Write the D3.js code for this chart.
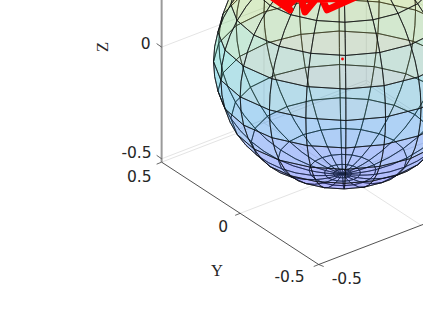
<!DOCTYPE html>
<html>
<head>
<meta charset="utf-8">
<script src="https://cdn.jsdelivr.net/npm/d3@7"></script>
<style>
  html, body { margin: 0; padding: 0; background: #fff; overflow: hidden; }
  text { font-family: "DejaVu Sans", sans-serif; fill: #262626; }
</style>
</head>
<body>
<div id="chart"></div>
<script>
var xTicks = [-0.5];
var yTicks = [0.5, 0, -0.5];
var zTicks = [0, -0.5];
var xLim = [-0.5, 0.5], yLim = [-0.5, 0.5], zLim = [-0.515, 0.5];

// mesh lines of the sphere, degrees
var latitudes = [-90, -86, -82, -75, -60, -45, -30, -15, 0, 15, 30, 45, 60, 75, 90];
var longitudes = [-180, -162, -144, -126, -108, -90, -72, -54, -36, -18, 0, 18, 36, 54, 72, 90, 108, 126, 144, 162, 180];
var radius = 0.5;

var colorZ = [-0.5, -0.25, 0, 0.25, 0.5];
var colorStops = ['#4030ff', '#3c7cf0', '#20d0d0', '#d8d050', '#ffc020'];

// red trace on the sphere surface (lon, lat)
var traceLon = [-193.5, -165.1, -183.2, -168, -164.4, -154, -147.5, -138.7, -114.1, -134.4, -125.4, -146.1, -162, -181.1];
var traceLat = [48.9, 48.1, 52.8, 50, 56.7, 49.3, 59.2, 52, 58.8, 61.2, 58, 56.8, 54.5, 49.4];
var centerDot = [[0, 0, 0]];

var width = 423, height = 317;
var az = -37.5 * Math.PI / 180, el = 30 * Math.PI / 180;
var sphereEl = 28 * Math.PI / 180;

var svg = d3.select('#chart').append('svg')
  .attr('width', width)
  .attr('height', height)
  .attr('viewBox', '0 0 ' + width + ' ' + height)
  .style('display', 'block');

var sx = d3.scaleLinear().domain([0, 1]).range([342.5, 342.5 + 258]);
var sy = d3.scaleLinear().domain([0, 1]).range([59, 59 - 258]);
var sySphere = d3.scaleLinear().domain([0, 1]).range([60, 60 - 258]);

function project(p) {
  var h = p[0] * Math.cos(az) + p[1] * Math.sin(az);
  var v = -p[0] * Math.sin(el) * Math.sin(az) + p[1] * Math.sin(el) * Math.cos(az) + p[2] * Math.cos(el);
  return [sx(h), sy(v)];
}
function projectMesh(p) {
  var h = p[0] * Math.cos(az) + p[1] * Math.sin(az);
  var v = -p[0] * Math.sin(sphereEl) * Math.sin(az) + p[1] * Math.sin(sphereEl) * Math.cos(az) + p[2] * Math.cos(sphereEl);
  return [sx(h), sySphere(v)];
}
function depth(p) {
  return p[0] * Math.cos(sphereEl) * Math.sin(az) - p[1] * Math.cos(sphereEl) * Math.cos(az) + p[2] * Math.sin(sphereEl);
}
function onSphere(lon, lat) {
  var a = lon * Math.PI / 180, b = lat * Math.PI / 180;
  return [radius * Math.cos(b) * Math.cos(a), radius * Math.cos(b) * Math.sin(a), radius * Math.sin(b)];
}

var line = d3.line();
function seg(a, b) { return line([project(a), project(b)]); }

// box grid
var gridLines = [];
zTicks.forEach(function(z) {
  gridLines.push([[xLim[0], yLim[1], z], [xLim[1], yLim[1], z]]);
  gridLines.push([[xLim[1], yLim[0], z], [xLim[1], yLim[1], z]]);
});
gridLines.push([[0, yLim[1], zLim[0]], [0, yLim[1], zLim[1]]]);
gridLines.push([[xLim[1], yLim[1], zLim[0]], [xLim[1], yLim[1], zLim[1]]]);
gridLines.push([[0, yLim[0], zLim[0]], [0, yLim[1], zLim[0]]]);
gridLines.push([[xLim[1], yLim[0], zLim[0]], [xLim[1], yLim[1], zLim[0]]]);
[0, yLim[1]].forEach(function(y) { gridLines.push([[xLim[0], y, zLim[0]], [xLim[1], y, zLim[0]]]); });

svg.append('g').selectAll('path').data(gridLines).enter().append('path')
  .attr('d', function(d) { return seg(d[0], d[1]); })
  .attr('fill', 'none')
  .attr('stroke', '#e4e4e4')
  .attr('stroke-width', 1);

// axes
var axisG = svg.append('g');
axisG.append('path')
  .attr('d', seg([xLim[0], yLim[1], zLim[0]], [xLim[0], yLim[1], zLim[1]]))
  .attr('stroke', '#9a9a9a').attr('stroke-width', 2).attr('fill', 'none');
axisG.append('path')
  .attr('d', seg([xLim[0], yLim[1], zLim[0]], [xLim[0], yLim[0], zLim[0]]))
  .attr('stroke', '#262626').attr('stroke-width', 0.8).attr('fill', 'none');
axisG.append('path')
  .attr('d', seg([xLim[0], yLim[0], zLim[0]], [xLim[1], yLim[0], zLim[0]]))
  .attr('stroke', '#262626').attr('stroke-width', 0.8).attr('fill', 'none');

// ticks and labels
var zOffsets = {'0': [-11, -3.5], '-0.5': [-10, -6]};
var yOffsets = {'0.5': [-10, 14], '0': [-12, 13], '-0.5': [-14, 12]};
zTicks.forEach(function(z) {
  var p = project([xLim[0], yLim[1], z]);
  axisG.append('path').attr('d', d3.line()([[p[0] - 5, p[1] - 3.5], p])).attr('stroke', '#262626').attr('stroke-width', 0.7).attr('fill', 'none');
  svg.append('text').attr('x', p[0] + zOffsets[z][0]).attr('y', p[1] + zOffsets[z][1]).attr('dy', '.36em')
    .attr('text-anchor', 'end').attr('font-size', 15.5).text(z);
});
yTicks.forEach(function(y) {
  var p = project([xLim[0], y, zLim[0]]);
  axisG.append('path').attr('d', d3.line()([[p[0] - 5, p[1] + 2], p])).attr('stroke', '#262626').attr('stroke-width', 0.7).attr('fill', 'none');
  svg.append('text').attr('x', p[0] + yOffsets[y][0]).attr('y', p[1] + yOffsets[y][1]).attr('dy', '.36em')
    .attr('text-anchor', 'end').attr('font-size', 15.5).text(y);
});
xTicks.forEach(function(x) {
  var p = project([x, yLim[0], zLim[0]]);
  axisG.append('path').attr('d', d3.line()([[p[0] + 5, p[1] + 2], p])).attr('stroke', '#262626').attr('stroke-width', 0.7).attr('fill', 'none');
  svg.append('text').attr('x', p[0] + 13).attr('y', p[1] + 13.5).attr('dy', '.36em')
    .attr('font-size', 15.5).text(x);
});
svg.append('text').attr('transform', 'translate(108,47) rotate(-90)').attr('text-anchor', 'middle')
  .style('font-family', '"Liberation Serif", serif').attr('font-size', 16.5).text('Z');
svg.append('text').attr('x', 217).attr('y', 275.5).attr('text-anchor', 'middle')
  .style('font-family', '"Liberation Serif", serif').attr('font-size', 16.5).text('Y');

// sphere faces, back to front; meridian edges get a midpoint so the outline stays round
var color = d3.scaleLinear().domain(colorZ).range(colorStops).clamp(true);
var faces = [];
d3.pairs(latitudes).forEach(function(la) {
  var mid = (la[0] + la[1]) / 2;
  d3.pairs(longitudes).forEach(function(lo) {
    var pts = [onSphere(lo[0], la[0]), onSphere(lo[1], la[0]), onSphere(lo[1], mid), onSphere(lo[1], la[1]), onSphere(lo[0], la[1]), onSphere(lo[0], mid)];
    faces.push({
      pts: pts,
      z: d3.mean(pts, function(p) { return p[2]; }),
      depth: d3.mean(pts, depth)
    });
  });
});
faces.sort(function(a, b) { return a.depth - b.depth; });

var polyLine = d3.line().curve(d3.curveLinearClosed);
svg.append('g').selectAll('path').data(faces).enter().append('path')
  .attr('d', function(d) { return polyLine(d.pts.map(projectMesh)); })
  .attr('fill', function(d) { return color(d.z); })
  .attr('fill-opacity', 0.22)
  .attr('stroke', '#0c1014')
  .attr('stroke-opacity', 0.9)
  .attr('stroke-width', 0.8);

// red trace and centre dot
var trace = traceLon.map(function(lon, i) { return project(onSphere(lon, traceLat[i])); });
svg.append('path').attr('d', d3.line()(trace))
  .attr('fill', 'none').attr('stroke', '#ff0000').attr('stroke-width', 7)
  .attr('stroke-linejoin', 'round').attr('stroke-linecap', 'round');
svg.selectAll('.dot').data(centerDot).enter().append('circle')
  .attr('class', 'dot')
  .attr('cx', function(d) { return project(d)[0]; })
  .attr('cy', function(d) { return project(d)[1]; })
  .attr('r', 1.4).attr('fill', '#ff0000');
</script>
</body>
</html>
